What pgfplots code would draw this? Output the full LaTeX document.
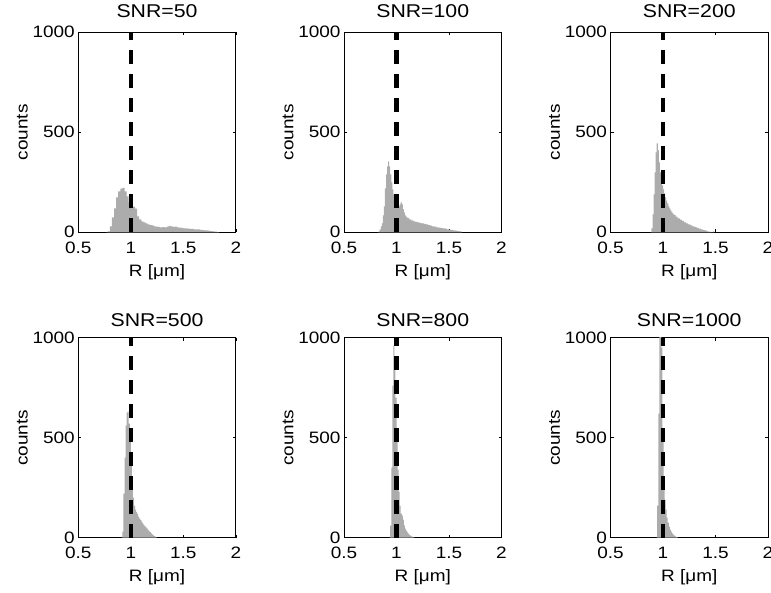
\documentclass[border=0pt]{standalone}
\usepackage{fontspec}
\setmainfont{Liberation Sans}[FakeStretch=1.15]
\usepackage{pgfplots}
\pgfplotsset{compat=1.18}

\definecolor{histgray}{RGB}{172,172,172}
\newcommand{\lblfont}{\fontsize{16.5}{19}\selectfont}
\newcommand{\ttlfont}{\fontsize{18.5}{22}\selectfont}

\pgfplotsset{
  panel/.style={
    scale only axis, width=157.5pt, height=200pt,
    xmin=0.5, xmax=2, ymin=0, ymax=1000,
    xtick={0.5,1,1.5,2}, xticklabels={0.5,1,1.5,2},
    ytick={0,500,1000}, yticklabels={0,500,1000},
    /pgf/number format/assume math mode=true,
    tick align=inside, major tick length=3pt,
    axis line style={line width=0.8pt},
    every tick/.style={black, line width=0.6pt},
    tick label style={font=\lblfont},
    xticklabel style={yshift=-6pt},
    label style={font=\lblfont},
    xlabel={R [μm]}, ylabel={counts},
    xlabel style={at={(axis description cs:0.5,-0.2)}, anchor=center},
    ylabel style={at={(axis description cs:-0.355,0.5)}, anchor=center},
    title style={font=\ttlfont, anchor=center},
  },
  hist/.style={const plot, fill=histgray, draw=none},
  ref/.style={black, line width=4.5pt, dash pattern=on 14pt off 10pt},
}

\begin{document}
\begin{tikzpicture}

% SNR=50
\begin{axis}[panel, at={(78.3pt,360.7pt)}, anchor=south west,
  title={SNR=50}, title style={at={(axis description cs:0.5,1.075)}}]
\addplot[hist] coordinates {
 (0.76,0) (0.78,5) (0.80,30) (0.82,75) (0.84,120) (0.86,175) (0.88,205)
 (0.90,218) (0.92,222) (0.94,205) (0.96,180) (0.98,150) (1.00,135) (1.02,128)
 (1.04,118) (1.06,80) (1.08,65) (1.10,55) (1.12,50) (1.14,44) (1.16,40)
 (1.18,36) (1.20,34) (1.22,30) (1.24,28) (1.26,27) (1.28,25) (1.30,26)
 (1.32,24) (1.34,28) (1.36,32) (1.38,29) (1.40,27) (1.42,28) (1.44,25)
 (1.46,23) (1.48,22) (1.50,20) (1.52,19) (1.54,18) (1.56,17) (1.58,17)
 (1.60,15) (1.62,14) (1.64,14) (1.66,12) (1.68,11) (1.70,10) (1.72,9)
 (1.74,7) (1.76,6) (1.78,4) (1.80,3) (1.82,1) (1.84,0)
} \closedcycle;
\addplot[ref] coordinates {(1,0) (1,1000)};
\end{axis}

% SNR=100
\begin{axis}[panel, at={(344pt,360.7pt)}, anchor=south west,
  title={SNR=100}, title style={at={(axis description cs:0.5,1.075)}}]
\addplot[hist] coordinates {
 (0.82,0) (0.83,5) (0.84,15) (0.85,30) (0.86,45) (0.87,85) (0.88,130)
 (0.89,220) (0.90,290) (0.91,330) (0.92,355) (0.93,330) (0.94,290) (0.95,250)
 (0.96,215) (0.97,190) (0.98,165) (0.99,140) (1.00,128) (1.01,125) (1.02,130)
 (1.03,140) (1.04,150) (1.05,140) (1.06,115) (1.07,100) (1.08,85) (1.09,78)
 (1.10,72) (1.12,65) (1.14,60) (1.16,55) (1.18,52) (1.20,50) (1.22,46)
 (1.24,44) (1.26,42) (1.28,40) (1.30,36) (1.32,33) (1.34,30) (1.36,28)
 (1.38,25) (1.40,23) (1.42,21) (1.44,19) (1.46,18) (1.48,15) (1.50,13)
 (1.52,12) (1.54,10) (1.56,8) (1.58,6) (1.60,4) (1.62,0)
} \closedcycle;
\addplot[ref] coordinates {(1,0) (1,1000)};
\end{axis}

% SNR=200
\begin{axis}[panel, at={(610.5pt,360.7pt)}, anchor=south west,
  title={SNR=200}, title style={at={(axis description cs:0.5,1.075)}}]
\addplot[hist] coordinates {
 (0.88,0) (0.89,20) (0.90,90) (0.91,190) (0.92,300) (0.93,400) (0.94,445)
 (0.95,410) (0.96,350) (0.97,300) (0.98,265) (0.99,235) (1.00,215) (1.01,195)
 (1.02,175) (1.03,158) (1.04,145) (1.05,130) (1.06,120) (1.07,110) (1.08,102)
 (1.09,94) (1.10,87) (1.12,78) (1.14,70) (1.16,63) (1.18,57) (1.20,50)
 (1.22,45) (1.24,40) (1.26,35) (1.28,30) (1.30,26) (1.32,22) (1.34,18)
 (1.36,14) (1.38,11) (1.40,8) (1.42,5) (1.44,2) (1.46,0) (1.475,4) (1.485,0)
} \closedcycle;
\addplot[ref] coordinates {(1,0) (1,1000)};
\end{axis}

% SNR=500
\begin{axis}[panel, at={(78.3pt,55.3pt)}, anchor=south west,
  title={SNR=500}, title style={at={(axis description cs:0.5,1.058)}}]
\addplot[hist] coordinates {
 (0.91,0) (0.92,30) (0.93,220) (0.94,400) (0.95,560) (0.96,625) (0.97,630)
 (0.98,570) (0.99,480) (1.00,380) (1.01,270) (1.02,200) (1.03,160) (1.04,140)
 (1.05,128) (1.06,118) (1.07,105) (1.08,95) (1.09,88) (1.10,80) (1.11,72)
 (1.12,65) (1.13,58) (1.14,52) (1.15,46) (1.16,40) (1.17,34) (1.18,28)
 (1.19,22) (1.20,17) (1.21,12) (1.22,8) (1.23,5) (1.24,2) (1.25,0)
} \closedcycle;
\addplot[ref] coordinates {(1,0) (1,1000)};
\end{axis}

% SNR=800
\begin{axis}[panel, at={(344pt,55.3pt)}, anchor=south west,
  title={SNR=800}, title style={at={(axis description cs:0.5,1.058)}}]
\addplot[hist] coordinates {
 (0.93,0) (0.94,60) (0.95,350) (0.96,760) (0.97,960) (0.98,900) (0.99,700)
 (1.00,480) (1.01,340) (1.02,230) (1.03,160) (1.04,120) (1.05,110) (1.06,90)
 (1.07,62) (1.08,45) (1.09,35) (1.10,27) (1.11,20) (1.12,14) (1.13,10)
 (1.14,7) (1.15,4) (1.16,2) (1.17,0)
} \closedcycle;
\addplot[ref] coordinates {(1,0) (1,1000)};
\end{axis}

% SNR=1000
\begin{axis}[panel, at={(610.5pt,55.3pt)}, anchor=south west,
  title={SNR=1000}, title style={at={(axis description cs:0.5,1.058)}}]
\addplot[hist] coordinates {
 (0.935,0) (0.945,160) (0.955,620) (0.965,1200) (0.975,1250) (0.985,950)
 (0.995,520) (1.005,290) (1.015,190) (1.025,140) (1.035,100) (1.045,75)
 (1.055,55) (1.065,40) (1.075,30) (1.085,22) (1.095,15) (1.105,10)
 (1.115,6) (1.125,3) (1.135,1) (1.145,0)
} \closedcycle;
\addplot[ref] coordinates {(1,0) (1,1000)};
\end{axis}

\pgfresetboundingbox
\path[use as bounding box] (0pt,0pt) rectangle (771pt,593pt);
\end{tikzpicture}
\end{document}
